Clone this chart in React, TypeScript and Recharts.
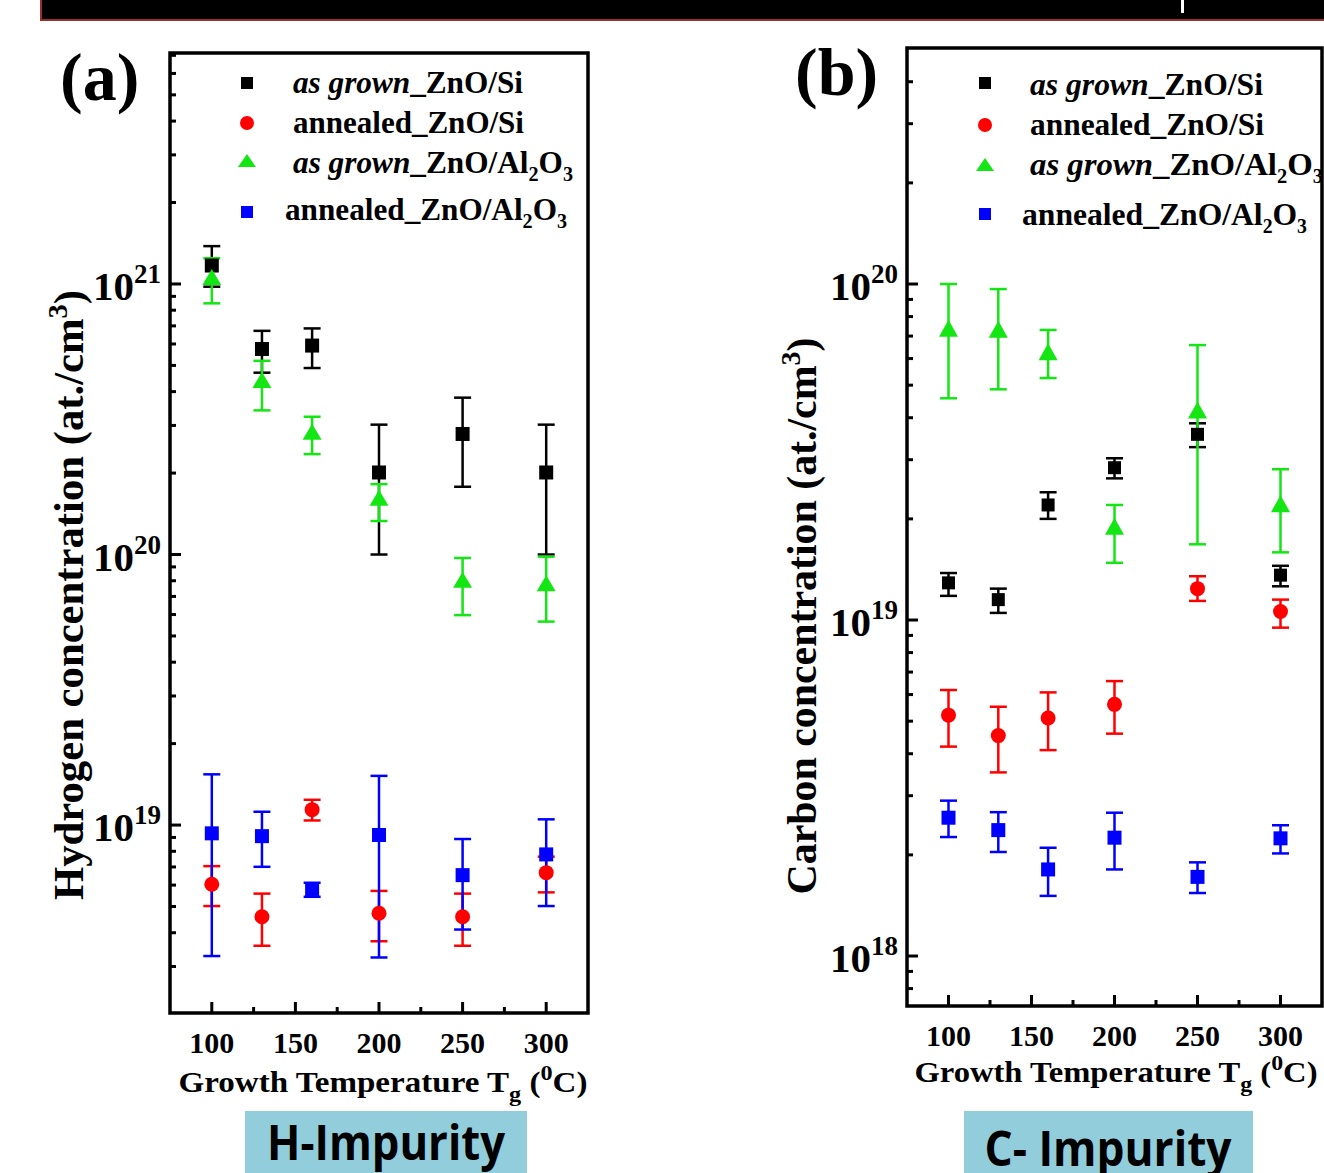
import React from 'react';
import { ScatterChart, Scatter, XAxis, YAxis, ErrorBar, ReferenceArea, Legend } from 'recharts';

const SERIF = '"Liberation Serif", "Times New Roman", serif';
const SANS = '"Open Sans", "Noto Sans", sans-serif';

const temps = [100, 130, 160, 200, 250, 300];
const tempTicks = [100, 125, 150, 175, 200, 225, 250, 275, 300];

// (a) hydrogen, at./cm3 (value, lower end of bar, upper end of bar)
const hGrownSi = [1.17e21, 5.75e20, 5.92e20, 2.01e20, 2.79e20, 2.01e20];
const hGrownSiLo = [9.77e20, 4.7e20, 4.89e20, 1.0e20, 1.78e20, 1.0e20];
const hGrownSiHi = [1.38e21, 6.71e20, 6.85e20, 3.02e20, 3.8e20, 3.02e20];
const hAnnSi = [6.04e18, 4.58e18, 1.14e19, 4.72e18, 4.58e18, 6.67e18];
const hAnnSiLo = [5.02e18, 3.58e18, 1.04e19, 3.72e18, 3.58e18, 5.64e18];
const hAnnSiHi = [7.05e18, 5.58e18, 1.24e19, 5.71e18, 5.58e18, 7.64e18];
const hGrownAl = [1.06e21, 4.42e20, 2.84e20, 1.62e20, 8.06e19, 7.83e19];
const hGrownAlLo = [8.48e20, 3.41e20, 2.35e20, 1.33e20, 5.97e19, 5.65e19];
const hGrownAlHi = [1.245e21, 5.2e20, 3.23e20, 1.82e20, 9.71e19, 9.82e19];
const hAnnAl = [9.32e18, 9.1e18, 5.78e18, 9.19e18, 6.53e18, 7.79e18];
const hAnnAlLo = [3.28e18, 7.01e18, 5.43e18, 3.24e18, 4.11e18, 5.02e18];
const hAnnAlHi = [1.54e19, 1.12e19, 6.12e18, 1.52e19, 8.88e18, 1.05e19];

// (b) carbon, at./cm3
const cGrownSi = [1.29e19, 1.15e19, 2.2e19, 2.84e19, 3.57e19, 1.36e19];
const cGrownSiLo = [1.18e19, 1.05e19, 2.0e19, 2.64e19, 3.27e19, 1.26e19];
const cGrownSiHi = [1.38e19, 1.24e19, 2.4e19, 3.03e19, 3.85e19, 1.45e19];
const cAnnSi = [5.21e18, 4.53e18, 5.11e18, 5.61e18, 1.24e19, 1.06e19];
const cAnnSiLo = [4.2e18, 3.52e18, 4.1e18, 4.59e18, 1.14e19, 9.49e18];
const cAnnSiHi = [6.19e18, 5.52e18, 6.09e18, 6.58e18, 1.35e19, 1.15e19];
const cGrownAl = [7.38e19, 7.33e19, 6.29e19, 1.9e19, 4.22e19, 2.22e19];
const cGrownAlLo = [4.57e19, 4.86e19, 5.25e19, 1.48e19, 1.68e19, 1.59e19];
const cGrownAlHi = [1.0e20, 9.66e19, 7.3e19, 2.2e19, 6.58e19, 2.81e19];
const cAnnAl = [2.58e18, 2.37e18, 1.81e18, 2.25e18, 1.72e18, 2.24e18];
const cAnnAlLo = [2.26e18, 2.04e18, 1.51e18, 1.81e18, 1.54e18, 2.02e18];
const cAnnAlHi = [2.9e18, 2.68e18, 2.1e18, 2.67e18, 1.9e18, 2.45e18];

const hTicks = [
  3e18, 4e18, 5e18, 6e18, 7e18, 8e18, 9e18,
  1e19, 2e19, 3e19, 4e19, 5e19, 6e19, 7e19, 8e19, 9e19,
  1e20, 2e20, 3e20, 4e20, 5e20, 6e20, 7e20, 8e20, 9e20,
  1e21, 2e21, 3e21, 4e21, 5e21, 6e21, 7e21,
];
const cTicks = [
  8e17, 9e17,
  1e18, 2e18, 3e18, 4e18, 5e18, 6e18, 7e18, 8e18, 9e18,
  1e19, 2e19, 3e19, 4e19, 5e19, 6e19, 7e19, 8e19, 9e19,
  1e20, 2e20, 3e20, 4e20,
];

const BLACK = '#000000';
const RED = '#ff0000';
const GREEN = '#14e614';
const BLUE = '#0000ff';

const rows = (v: number[], lo: number[], hi: number[]) =>
  temps.map((t, i) => ({ x: t, y: v[i], err: [v[i] - lo[i], hi[i] - v[i]] }));

const square = (fill: string, s: number) => (p: any) =>
  <rect x={p.cx - s / 2} y={p.cy - s / 2} width={s} height={s} fill={fill} />;
const circle = (fill: string, r: number) => (p: any) =>
  <circle cx={p.cx} cy={p.cy} r={r} fill={fill} />;
const triangle = (fill: string, w: number, h: number) => (p: any) =>
  <polygon points={`${p.cx},${p.cy - h / 2} ${p.cx - w / 2},${p.cy + h / 2} ${p.cx + w / 2},${p.cy + h / 2}`} fill={fill} />;

const grown = <tspan fontStyle="italic">as grown</tspan>;
const al2o3 = (
  <>
    <tspan>_ZnO/Al</tspan>
    <tspan fontSize={20} dy={8}>2</tspan>
    <tspan dy={-8}>O</tspan>
    <tspan fontSize={20} dy={8}>3</tspan>
  </>
);
const legendLabels = [
  <>{grown}<tspan>_ZnO/Si</tspan></>,
  <tspan>annealed_ZnO/Si</tspan>,
  <>{grown}{al2o3}</>,
  <><tspan>annealed</tspan>{al2o3}</>,
];

function LegendBox({ lg }: { lg: any }) {
  const markers = [
    <rect key="m0" x={lg.mx - 6} y={lg.my[0] - 6} width={12} height={12} fill={BLACK} />,
    <circle key="m1" cx={lg.mx} cy={lg.my[1]} r={7} fill={RED} />,
    <polygon key="m2" points={`${lg.mx},${lg.my[2] - 7} ${lg.mx - 9},${lg.my[2] + 6} ${lg.mx + 9},${lg.my[2] + 6}`} fill={GREEN} />,
    <rect key="m3" x={lg.mx - 6} y={lg.my[3] - 6} width={12} height={12} fill={BLUE} />,
  ];
  return (
    <svg width={380} height={190} style={{ display: 'block', overflow: 'visible' }}>
      {markers}
      {legendLabels.map((l, i) => (
        <text key={i} x={lg.tx[i]} y={lg.ty[i]} fontFamily={SERIF} fontWeight="bold" fontSize={lg.font}
          textLength={lg.len[i]} lengthAdjust="spacingAndGlyphs" fill="#000">{l}</text>
      ))}
    </svg>
  );
}

function Panel({ left, width, height, margin, yDomain, yTicks, series, lg }: any) {
  const plotLeft = margin.left + 100;
  const plotBottom = height - margin.bottom - 60;

  const xTick = (p: any) => {
    const v = p.payload.value;
    const major = v % 50 === 0;
    return (
      <g>
        <line x1={p.x} x2={p.x} y1={plotBottom} y2={plotBottom - (major ? 11 : 6)} stroke="#000" strokeWidth={3} />
        {major && (
          <text x={p.x} y={plotBottom + 40} textAnchor="middle" fontFamily={SERIF} fontWeight="bold" fontSize={30} fill="#000">{v}</text>
        )}
      </g>
    );
  };

  const yTick = (p: any) => {
    const v = p.payload.value;
    const e = Math.round(Math.log10(v));
    const major = Math.abs(Math.log10(v) - e) < 1e-6;
    return (
      <g>
        <line x1={plotLeft} x2={plotLeft + (major ? 11 : 6)} y1={p.y} y2={p.y} stroke="#000" strokeWidth={3} />
        {major && (
          <text x={plotLeft - 9} y={p.y + 16} textAnchor="end" fontFamily={SERIF} fontWeight="bold" fontSize={41} fill="#000">
            10<tspan fontSize={27} dy={-17}>{e}</tspan>
          </text>
        )}
      </g>
    );
  };

  return (
    <div style={{ position: 'absolute', left, top: 0 }}>
      <ScatterChart width={width} height={height} margin={margin}>
        <XAxis type="number" dataKey="x" domain={[75, 325]} ticks={tempTicks} interval={0} tick={xTick}
          tickLine={false} axisLine={false} height={60} allowDataOverflow />
        <YAxis type="number" dataKey="y" scale="log" domain={yDomain} ticks={yTicks} interval={0} tick={yTick}
          tickLine={false} axisLine={false} width={100} allowDataOverflow />
        {series.map((s: any) => (
          <Scatter key={s.name} name={s.name} data={s.data} shape={s.shape} fill={s.color} isAnimationActive={false}>
            <ErrorBar dataKey="err" direction="y" width={8.5} stroke={s.color} strokeWidth={2.5} />
          </Scatter>
        ))}
        <ReferenceArea x1={75} x2={325} y1={yDomain[0]} y2={yDomain[1]} fill="none" stroke="#000"
          strokeWidth={3.5} ifOverflow="visible" />
        <Legend layout="vertical" align="center" verticalAlign="middle"
          wrapperStyle={{ left: lg.left, top: lg.top, width: 380, height: 190 }}
          content={() => <LegendBox lg={lg} />} />
      </ScatterChart>
    </div>
  );
}

export default function App() {
  const hSeries = [
    { name: 'as grown_ZnO/Si', color: BLACK, data: rows(hGrownSi, hGrownSiLo, hGrownSiHi), shape: square(BLACK, 14) },
    { name: 'annealed_ZnO/Si', color: RED, data: rows(hAnnSi, hAnnSiLo, hAnnSiHi), shape: circle(RED, 7.5) },
    { name: 'as grown_ZnO/Al2O3', color: GREEN, data: rows(hGrownAl, hGrownAlLo, hGrownAlHi), shape: triangle(GREEN, 19, 16) },
    { name: 'annealed_ZnO/Al2O3', color: BLUE, data: rows(hAnnAl, hAnnAlLo, hAnnAlHi), shape: square(BLUE, 14) },
  ];
  const cSeries = [
    { name: 'as grown_ZnO/Si', color: BLACK, data: rows(cGrownSi, cGrownSiLo, cGrownSiHi), shape: square(BLACK, 13) },
    { name: 'annealed_ZnO/Si', color: RED, data: rows(cAnnSi, cAnnSiLo, cAnnSiHi), shape: circle(RED, 7.5) },
    { name: 'as grown_ZnO/Al2O3', color: GREEN, data: rows(cGrownAl, cGrownAlLo, cGrownAlHi), shape: triangle(GREEN, 19, 17) },
    { name: 'annealed_ZnO/Al2O3', color: BLUE, data: rows(cAnnAl, cAnnAlLo, cAnnAlHi), shape: square(BLUE, 14) },
  ];

  const lgA = { left: 225, top: 55, mx: 22, my: [28, 68, 106, 157], tx: [68, 68, 68, 60], ty: [38, 78, 118, 165], len: [230, 231, 280, 282], font: 31 };
  const lgB = { left: 220, top: 55, mx: 25, my: [28, 70, 110, 159], tx: [70, 70, 70, 62], ty: [40, 80, 120, 170], len: [233, 234, 293, 285], font: 32 };

  return (
    <div style={{ position: 'absolute', left: 0, top: 0, width: 1324, height: 1173, background: '#fff', overflow: 'hidden' }}>
      <svg width={1324} height={1173} style={{ position: 'absolute', left: 0, top: 0 }}>
        <rect x={41} y={-3} width={1300} height={23} fill="#000" stroke="#9b2d2d" strokeWidth={2} />
        <rect x={1181} y={0} width={3} height={13} fill="#fff" />

        <text x={60} y={100} fontFamily={SERIF} fontWeight="bold" fontSize={68} fill="#000">(a)</text>
        <text x={795} y={95} fontFamily={SERIF} fontWeight="bold" fontSize={68} fill="#000">(b)</text>

        <text transform="translate(83,595) rotate(-90)" textAnchor="middle" fontFamily={SERIF} fontWeight="bold"
          fontSize={42} textLength={610} lengthAdjust="spacingAndGlyphs" fill="#000">
          Hydrogen concentration (at./cm<tspan fontSize={28} dy={-16}>3</tspan><tspan dy={16}>)</tspan>
        </text>
        <text transform="translate(816,616) rotate(-90)" textAnchor="middle" fontFamily={SERIF} fontWeight="bold"
          fontSize={42} textLength={557} lengthAdjust="spacingAndGlyphs" fill="#000">
          Carbon concentration (at./cm<tspan fontSize={28} dy={-16}>3</tspan><tspan dy={16}>)</tspan>
        </text>

        <text x={383} y={1092} textAnchor="middle" fontFamily={SERIF} fontWeight="bold" fontSize={30}
          textLength={409} lengthAdjust="spacingAndGlyphs" fill="#000">
          Growth Temperature T<tspan fontSize={22} dy={9}>g</tspan><tspan dy={-9}> (</tspan><tspan fontSize={22} dy={-12}>0</tspan><tspan dy={12}>C)</tspan>
        </text>
        <text x={1116} y={1082} textAnchor="middle" fontFamily={SERIF} fontWeight="bold" fontSize={30}
          textLength={403} lengthAdjust="spacingAndGlyphs" fill="#000">
          Growth Temperature T<tspan fontSize={22} dy={9}>g</tspan><tspan dy={-9}> (</tspan><tspan fontSize={22} dy={-12}>0</tspan><tspan dy={12}>C)</tspan>
        </text>

        <rect x={245} y={1111} width={282} height={62} fill="#92cddc" />
        <text x={386} y={1160} textAnchor="middle" fontFamily={SANS} fontWeight="bold" fontSize={48}
          textLength={238} lengthAdjust="spacingAndGlyphs" fill="#000">H-Impurity</text>
        <rect x={964} y={1111} width={289} height={62} fill="#92cddc" />
        <text x={1108} y={1166} textAnchor="middle" fontFamily={SANS} fontWeight="bold" fontSize={48}
          textLength={247} lengthAdjust="spacingAndGlyphs" fill="#000">C- Impurity</text>
      </svg>

      <Panel left={0} width={600} height={1110} margin={{ top: 53, right: 12, left: 70, bottom: 37 }}
        yDomain={[2.02e18, 7.14e21]} yTicks={hTicks} series={hSeries} lg={lgA} />
      <Panel left={740} width={584} height={1100} margin={{ top: 48, right: 2, left: 67, bottom: 34 }}
        yDomain={[7.1e17, 5.04e20]} yTicks={cTicks} series={cSeries} lg={lgB} />
    </div>
  );
}
